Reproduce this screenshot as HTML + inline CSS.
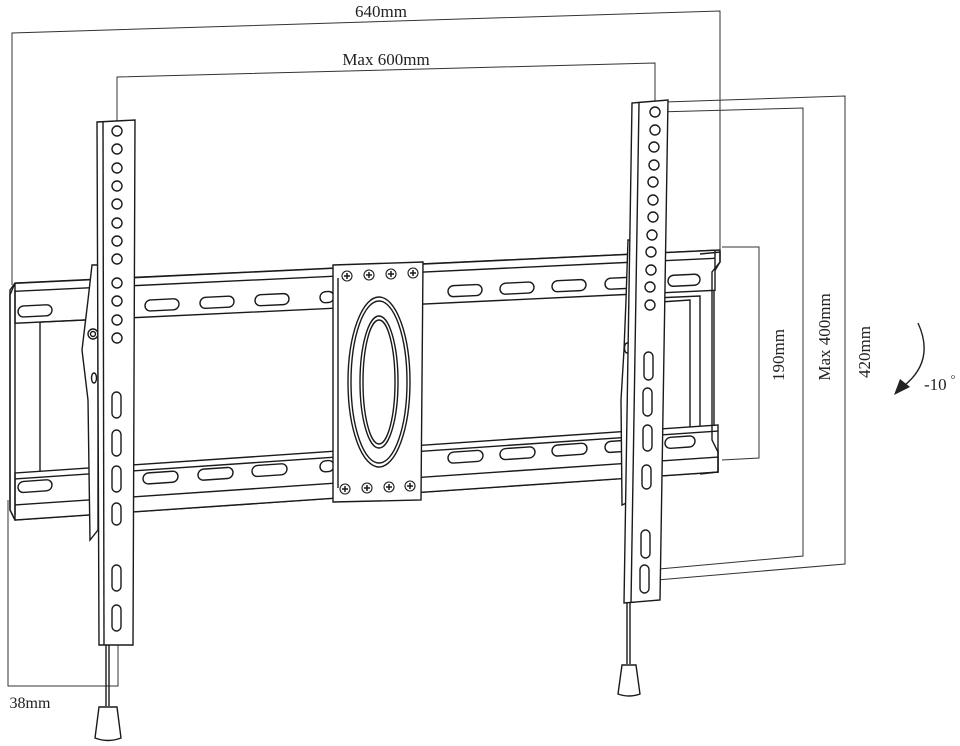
<!DOCTYPE html>
<html><head><meta charset="utf-8"><style>
html,body{margin:0;padding:0;background:#fff;}
svg{display:block;}
text{font-family:"Liberation Serif",serif;fill:#222;}
</style></head><body>
<svg width="960" height="746" viewBox="0 0 960 746" xmlns="http://www.w3.org/2000/svg">
<g fill="none" stroke="#333" stroke-width="1">
<polyline points="12,285 12,33 720,11 720,250"/>
<polyline points="117,127 117,77 655,63 655,112"/>
<polyline points="722,247 759,247 759,458 722,460"/>
<polyline points="657,112 803,108 803,556 648,570"/>
<polyline points="665,102 845,96 845,564 657,580"/>
<polyline points="8,500 8,686 118,686 118,645"/>
</g>
<text x="381" y="17" font-size="17" text-anchor="middle">640mm</text>
<text x="386" y="65" font-size="17" text-anchor="middle">Max 600mm</text>
<text x="30" y="708" font-size="16" text-anchor="middle">38mm</text>
<text transform="translate(784,355) rotate(-90)" font-size="17" text-anchor="middle">190mm</text>
<text transform="translate(830,337) rotate(-90)" font-size="17" text-anchor="middle">Max 400mm</text>
<text transform="translate(870,352) rotate(-90)" font-size="17" text-anchor="middle">420mm</text>
<text x="924" y="390" font-size="17">-10</text>
<circle cx="953" cy="377" r="1.5" fill="none" stroke="#333" stroke-width="0.6"/>
<path d="M918,323 Q935,360 905,385" fill="none" stroke="#222" stroke-width="1.4"/>
<polygon points="894,395 900,379 910,387" fill="#222"/>

<g fill="#fff" stroke="#1a1a1a" stroke-width="1.4">
<polygon points="10,290 15,283 720,250 720,262 714,272 714,440 718,450 718,472 15,520 10,510"/>
<g transform="skewY(-2.7)">
<rect x="15" y="284" width="700" height="40"/>
<line x1="15" y1="292" x2="715" y2="292"/>
<rect x="40" y="324" width="58" height="150" fill="none"/>
<rect x="18" y="307" width="34" height="11" rx="5.5"/>
<rect x="145" y="307" width="34" height="11" rx="5.5"/>
<rect x="200" y="307" width="34" height="11" rx="5.5"/>
<rect x="255" y="307" width="34" height="11" rx="5.5"/>
<rect x="320" y="307" width="14" height="11" rx="5.5"/>
<rect x="448" y="307" width="34" height="11" rx="5.5"/>
<rect x="500" y="307" width="34" height="11" rx="5.5"/>
<rect x="552" y="307" width="34" height="11" rx="5.5"/>
<rect x="605" y="307" width="34" height="11" rx="5.5"/>
<rect x="668" y="307" width="32" height="11" rx="5.5"/>
</g>
<polygon points="655,298 700,296 700,445 655,448" fill="none"/>
<polygon points="660,302 690,300 690,442 660,444" fill="none"/>
<g transform="skewY(-3.9)">
<rect x="15" y="474" width="703" height="47"/>
<line x1="15" y1="480" x2="718" y2="480"/>
<line x1="15" y1="506" x2="718" y2="506"/>
<rect x="18" y="483" width="34" height="11" rx="5.5"/>
<rect x="143" y="483" width="35" height="11" rx="5.5"/>
<rect x="198" y="483" width="35" height="11" rx="5.5"/>
<rect x="252" y="483" width="35" height="11" rx="5.5"/>
<rect x="320" y="483" width="14" height="11" rx="5.5"/>
<rect x="448" y="483" width="35" height="11" rx="5.5"/>
<rect x="500" y="483" width="35" height="11" rx="5.5"/>
<rect x="552" y="483" width="35" height="11" rx="5.5"/>
<rect x="605" y="483" width="36" height="11" rx="5.5"/>
<rect x="665" y="483" width="30" height="11" rx="5.5"/>
</g>
<polyline points="15,283 10,295 10,510 15,520" fill="none"/>
<polyline points="15,290 15,515" fill="none"/>
<polyline points="700,254 720,252 720,262 712,272 712,440 718,452 718,472 700,474" fill="none"/>

<polygon points="333,265 423,262 421,500 333,502"/>
<line x1="338" y1="278" x2="338" y2="488"/>
<ellipse cx="379" cy="382" rx="31" ry="85"/>
<ellipse cx="379" cy="382" rx="28" ry="81"/>
<ellipse cx="379" cy="382" rx="19" ry="66"/>
<ellipse cx="379" cy="382" rx="16" ry="62"/>
<g stroke-width="1.1">
<circle cx="347" cy="276" r="5"/><circle cx="369" cy="275" r="5"/><circle cx="391" cy="274" r="5"/><circle cx="413" cy="273" r="5"/>
<circle cx="345" cy="489" r="5"/><circle cx="367" cy="488" r="5"/><circle cx="389" cy="487" r="5"/><circle cx="410" cy="486" r="5"/>
</g>
<g stroke-width="1.5">
<path d="M344,276h6M347,273v6M366,275h6M369,272v6M388,274h6M391,271v6M410,273h6M413,270v6"/>
<path d="M342,489h6M345,486v6M364,488h6M367,485v6M386,487h6M389,484v6M407,486h6M410,483v6"/>
</g>

<polygon points="92,265 98,265 98,530 90,540 88,400 82,350 88,300"/>
<circle cx="93" cy="334" r="5"/><circle cx="93" cy="334" r="2.5"/>
<ellipse cx="94" cy="378" rx="2.5" ry="5"/>
<polygon points="97,122 135,120 133,645 99,645"/>
<line x1="103" y1="122" x2="104" y2="645"/>
<circle cx="117" cy="131" r="5"/><circle cx="117" cy="149" r="5"/><circle cx="117" cy="168" r="5"/><circle cx="117" cy="186" r="5"/><circle cx="117" cy="204" r="5"/><circle cx="117" cy="223" r="5"/><circle cx="117" cy="241" r="5"/><circle cx="117" cy="259" r="5"/><circle cx="117" cy="283" r="5"/><circle cx="117" cy="301" r="5"/><circle cx="117" cy="320" r="5"/><circle cx="117" cy="338" r="5"/>
<rect x="112" y="392" width="9" height="26" rx="4.5"/>
<rect x="112" y="430" width="9" height="26" rx="4.5"/>
<rect x="112" y="466" width="9" height="26" rx="4.5"/>
<rect x="112" y="503" width="9" height="22" rx="4.5"/>
<rect x="112" y="565" width="9" height="26" rx="4.5"/>
<rect x="112" y="605" width="9" height="26" rx="4.5"/>
<line x1="106" y1="645" x2="106" y2="706"/>
<line x1="109" y1="645" x2="109" y2="706"/>
<path d="M99,707 L117,707 L121,738 Q108,743 95,738 Z"/>

<polygon points="628,240 635,240 633,500 622,505 621,400 624,350 626,300"/>
<ellipse cx="627" cy="348" rx="2.5" ry="5"/>
<polygon points="632,103 668,100 660,600 624,603"/>
<line x1="639" y1="103" x2="631" y2="603"/>
<circle cx="655" cy="112" r="5"/><circle cx="655" cy="130" r="5"/><circle cx="654" cy="147" r="5"/><circle cx="654" cy="165" r="5"/><circle cx="653" cy="182" r="5"/><circle cx="653" cy="200" r="5"/><circle cx="653" cy="217" r="5"/><circle cx="652" cy="235" r="5"/><circle cx="651" cy="252" r="5"/><circle cx="651" cy="270" r="5"/><circle cx="650" cy="287" r="5"/><circle cx="650" cy="305" r="5"/>
<rect x="644" y="352" width="9" height="28" rx="4.5"/>
<rect x="643" y="388" width="9" height="28" rx="4.5"/>
<rect x="643" y="425" width="9" height="26" rx="4.5"/>
<rect x="642" y="465" width="9" height="24" rx="4.5"/>
<rect x="641" y="530" width="9" height="28" rx="4.5"/>
<rect x="640" y="565" width="9" height="28" rx="4.5"/>
<line x1="627" y1="603" x2="627" y2="664"/>
<line x1="630" y1="603" x2="630" y2="664"/>
<path d="M622,665 L636,665 L640,694 Q629,698 618,694 Z"/>
</g>
</svg>
</body></html>
